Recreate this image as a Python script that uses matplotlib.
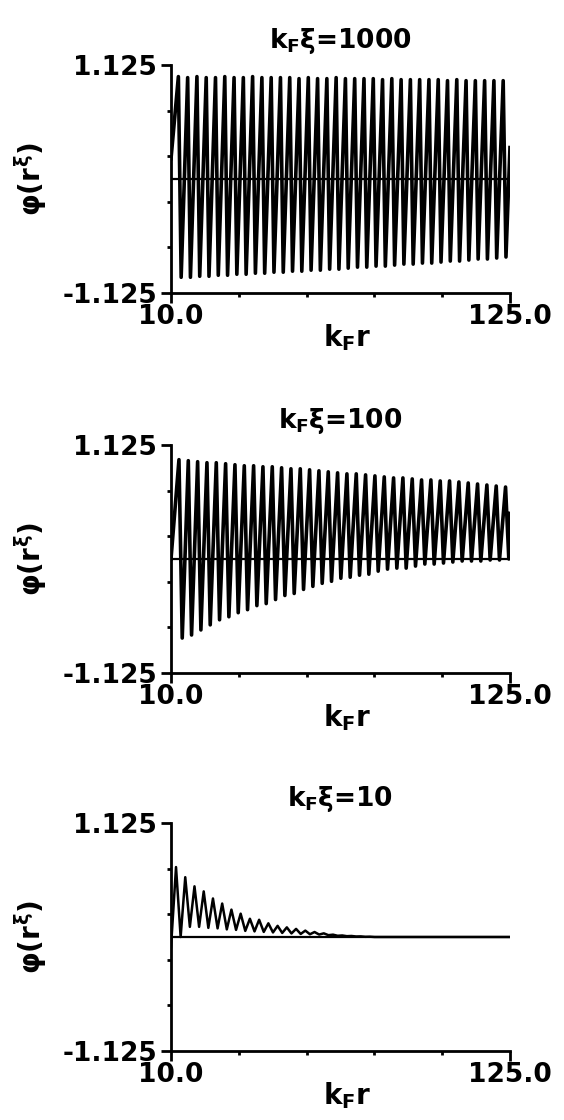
import numpy as np
import matplotlib.pyplot as plt

plt.rcParams['font.family'] = ['DejaVu Sans']
plt.rcParams['font.weight'] = 'bold'
plt.rcParams['mathtext.fontset'] = 'custom'
plt.rcParams['mathtext.rm'] = 'DejaVu Sans:bold'
plt.rcParams['mathtext.it'] = 'DejaVu Sans:bold'
plt.rcParams['mathtext.bf'] = 'DejaVu Sans:bold'

# values
titles = [r'$k_F\xi$=1000', r'$k_F\xi$=100', r'$k_F\xi$=10']
x_range = (10.0, 125.0)
y_range = (-1.125, 1.125)
xticks_major = [10.0, 125.0]
xtick_labels = ['10.0', '125.0']
xticks_minor = [33.0, 56.0, 79.0, 102.0]
yticks_major = [-1.125, 1.125]
ytick_labels = ['-1.125', '1.125']
yticks_minor = [-0.675, -0.225, 0.225, 0.675]

# k_F xi = 1000 : upper / lower extrema of each cycle
p1_first, p1_last = 12.5, 122.7
p1_peaks = [1.01, 1.00, 1.01, 1.00, 1.00, 1.01, 1.00, 1.00, 1.01, 1.00, 1.00, 1.00,
            1.00, 0.99, 1.00, 0.99, 0.99, 1.00, 0.99, 0.99, 0.99, 0.99, 0.98, 0.99,
            0.98, 0.98, 0.98, 0.98, 0.98, 0.97, 0.98, 0.97, 0.97, 0.97, 0.97, 0.97]
p1_troughs = [-0.97, -0.97, -0.96, -0.96, -0.95, -0.95, -0.94, -0.94, -0.93, -0.93, -0.92, -0.92,
              -0.91, -0.91, -0.90, -0.90, -0.89, -0.89, -0.88, -0.87, -0.87, -0.86, -0.86, -0.85,
              -0.84, -0.84, -0.83, -0.83, -0.82, -0.81, -0.81, -0.80, -0.79, -0.79, -0.78, -0.77]
p1_start = (10.0, 0.2)
p1_end = (125.0, 0.31)

# k_F xi = 100
p2_first, p2_last = 12.7, 123.5
p2_peaks = [0.98, 0.97, 0.96, 0.95, 0.95, 0.94, 0.93, 0.92, 0.92, 0.91, 0.91, 0.90,
            0.89, 0.89, 0.88, 0.87, 0.86, 0.85, 0.84, 0.84, 0.83, 0.82, 0.81, 0.80,
            0.80, 0.79, 0.78, 0.78, 0.77, 0.77, 0.76, 0.75, 0.74, 0.73, 0.72, 0.71]
p2_troughs = [-0.78, -0.75, -0.70, -0.65, -0.60, -0.57, -0.53, -0.50, -0.46, -0.44, -0.40, -0.36,
              -0.34, -0.30, -0.27, -0.24, -0.22, -0.19, -0.18, -0.16, -0.15, -0.12, -0.10, -0.09,
              -0.09, -0.07, -0.05, -0.05, -0.04, -0.03, -0.02, -0.02, -0.02, -0.01, -0.01, 0.00]
p2_start = (10.0, 0.0)
p2_end = (125.0, 0.45)

# k_F xi = 10
p3_first, p3_last = 11.7, 77.5
p3_peaks = [0.69, 0.59, 0.50, 0.45, 0.38, 0.33, 0.27, 0.23, 0.18, 0.17, 0.135, 0.11,
            0.095, 0.08, 0.063, 0.049, 0.036, 0.023, 0.015, 0.01, 0.006, 0.003]
p3_troughs = [0.00, 0.10, 0.10, 0.09, 0.085, 0.075, 0.07, 0.06, 0.055, 0.05, 0.045, 0.04,
              0.035, 0.03, 0.027, 0.024, 0.018, 0.012, 0.008, 0.005, 0.002, 0.0]
p3_start = (10.0, -0.1)
p3_end = (125.0, 0.0)

panels = [
    (p1_first, p1_last, p1_peaks, p1_troughs, p1_start, p1_end, 0.3, 2.6),
    (p2_first, p2_last, p2_peaks, p2_troughs, p2_start, p2_end, 0.35, 2.6),
    (p3_first, p3_last, p3_peaks, p3_troughs, p3_start, p3_end, 0.5, 1.8),
]

fig = plt.figure(figsize=(5.64, 11.2), dpi=100)
bottoms = [0.7384, 0.3991, 0.0616]

for title, bottom, (first, last, peaks, troughs, start, end, fall, lw) in zip(titles, bottoms, panels):
    ax = fig.add_axes([0.3032, bottom, 0.601, 0.2036])
    peak_x = np.linspace(first, last, len(peaks))
    step = peak_x[1] - peak_x[0]
    xs = [start[0]]
    ys = [start[1]]
    for x, p, t in zip(peak_x, peaks, troughs):
        xs += [x, x + fall * step]
        ys += [p, t]
    xs.append(end[0])
    ys.append(end[1])
    ax.plot(xs, ys, color='black', lw=lw, solid_joinstyle='round')
    ax.axhline(0, color='black', lw=1.6)

    ax.set_xlim(*x_range)
    ax.set_ylim(*y_range)
    for s in ['top', 'right']:
        ax.spines[s].set_visible(False)
    for s in ['left', 'bottom']:
        ax.spines[s].set_linewidth(2)
    ax.set_xticks(xticks_major)
    ax.set_xticklabels(xtick_labels)
    ax.set_xticks(xticks_minor, minor=True)
    ax.set_yticks(yticks_major)
    ax.set_yticklabels(ytick_labels)
    ax.set_yticks(yticks_minor, minor=True)
    ax.tick_params(axis='both', which='major', length=7, width=2, labelsize=19)
    ax.tick_params(axis='x', which='major', pad=1)
    ax.tick_params(axis='y', which='major', pad=3)
    ax.tick_params(axis='both', which='minor', length=3, width=2)

    ax.set_title(title, fontsize=19, fontweight='bold', pad=12)
    ax.set_xlabel(r'$k_Fr$', fontsize=20)
    ax.xaxis.set_label_coords(0.52, -0.13)
    ax.set_ylabel(r'$\varphi(r^{\xi})$', fontsize=20)
    ax.yaxis.set_label_coords(-0.36, 0.5)

fig.savefig('out.png', dpi=100)
